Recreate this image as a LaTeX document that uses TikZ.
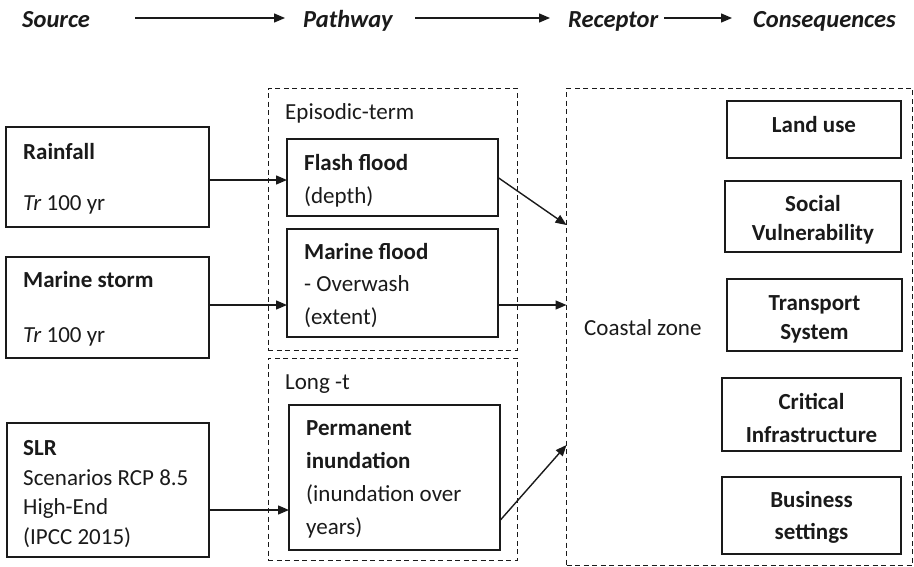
\documentclass[tikz,border=0pt]{standalone}
\usepackage{fontspec}
\setmainfont{Carlito}
\usetikzlibrary{arrows.meta}
\definecolor{ink}{HTML}{1A1A1A}
\begin{document}
\begin{tikzpicture}[x=1pt,y=-1pt,
  box/.style={draw=ink, line width=1.4pt, inner sep=0pt, outer sep=0pt},
  dbox/.style={draw=ink, line width=1pt, dash pattern=on 5pt off 3.5pt, inner sep=0pt, outer sep=0pt},
  txt/.style={anchor=base west, inner sep=0pt, text=ink, font=\fontsize{23}{27}\selectfont},
  btxt/.style={anchor=base west, inner sep=0pt, text=ink, font=\bfseries\fontsize{23}{27}\selectfont},
  ctxt/.style={anchor=base, inner sep=0pt, text=ink, font=\bfseries\fontsize{23}{27}\selectfont},
  hdr/.style={anchor=base west, inner sep=0pt, text=ink, font=\bfseries\itshape\fontsize{24.5}{29}\selectfont},
  arr/.style={draw=ink, line width=1.4pt, -{Triangle[length=11pt,width=9pt]}}
]
\useasboundingbox (0,0) rectangle (914,566);

% header
\node[hdr] (hsrc) at (22,27) {Source};
\node[hdr] (hpath) at (303,27) {Pathway};
\node[hdr] (hrec) at (568,27) {Receptor};
\node[hdr] (hcons) at (753,27) {Consequences};
\coordinate (h1a) at (135,18); \coordinate (h1b) at (285,18);
\coordinate (h2a) at (415,18); \coordinate (h2b) at (550,18);
\coordinate (h3a) at (664,18); \coordinate (h3b) at (732,18);
\draw[arr] (h1a) -- (h1b);
\draw[arr] (h2a) -- (h2b);
\draw[arr] (h3a) -- (h3b);

% dashed groups
\node[dbox, minimum width=249pt, minimum height=262pt] (epi) at (392.5,219) {};
\node[dbox, minimum width=249pt, minimum height=202pt] (long) at (392.5,459) {};
\node[dbox, minimum width=346pt, minimum height=477pt] (coast) at (739.5,326.5) {};

% source boxes
\node[box, minimum width=203pt, minimum height=100pt] (rain) at (107.5,177) {};
\node[box, minimum width=203pt, minimum height=101pt] (storm) at (107.5,307.5) {};
\node[box, minimum width=202pt, minimum height=134pt] (slr) at (108,490) {};

% pathway boxes
\node[box, minimum width=211pt, minimum height=77pt] (flash) at (392.5,177.5) {};
\node[box, minimum width=211pt, minimum height=108pt] (mflood) at (392.5,283) {};
\node[box, minimum width=211pt, minimum height=145pt] (perm) at (394.5,477.5) {};

% consequence boxes
\node[box, minimum width=174pt, minimum height=57pt] (land) at (814,129.5) {};
\node[box, minimum width=176pt, minimum height=71pt] (social) at (813,216.5) {};
\node[box, minimum width=175pt, minimum height=72pt] (trans) at (814.5,315) {};
\node[box, minimum width=179pt, minimum height=73pt] (crit) at (811.5,414.5) {};
\node[box, minimum width=179pt, minimum height=77pt] (bus) at (811.5,515.5) {};

% source texts
\node[btxt] (t1) at (23,159) {Rainfall};
\node[txt] (t2) at (23,210) {\textit{Tr} 100 yr};
\node[btxt] (t3) at (23,287) {Marine storm};
\node[txt] (t4) at (23,342) {\textit{Tr} 100 yr};
\node[btxt] (t5) at (23,455) {SLR};
\node[txt] (t6) at (23,485) {Scenarios RCP 8.5};
\node[txt] (t7) at (23,514) {High-End};
\node[txt] (t8) at (23,544) {(IPCC 2015)};

% pathway texts
\node[txt] (p0) at (285,119) {Episodic-term};
\node[btxt] (p1) at (304,170) {Flash flood};
\node[txt] (p2) at (304,203) {(depth)};
\node[btxt] (p3) at (304,259) {Marine flood};
\node[txt] (p4) at (304,291) {- Overwash};
\node[txt] (p5) at (304,324) {(extent)};
\node[txt] (p6) at (285,389) {Long -t};
\node[btxt] (p7) at (306,435) {Permanent};
\node[btxt] (p8) at (306,468) {inundation};
\node[txt] (p9) at (306,501) {(inundation over};
\node[txt] (p10) at (306,534) {years)};

% receptor / consequences texts
\node[txt] (cz) at (584,335) {Coastal zone};
\node[ctxt] (k1) at (814,132) {Land use};
\node[ctxt] (k2) at (813,211) {Social};
\node[ctxt] (k3) at (813,240) {Vulnerability};
\node[ctxt] (k4) at (814.5,310) {Transport};
\node[ctxt] (k5) at (814.5,339) {System};
\node[ctxt] (k6) at (811.5,409) {Critical};
\node[ctxt] (k7) at (811.5,442) {Infrastructure};
\node[ctxt] (k8) at (811.5,507) {Business};
\node[ctxt] (k9) at (811.5,539) {settings};

% connectors
\draw[arr] ([yshift=-3pt]rain.east) -- ([yshift=-3pt]rain.east -| flash.west);
\draw[arr] ([yshift=2.5pt]storm.east) -- ([yshift=2.5pt]storm.east -| mflood.west);
\draw[arr] ([yshift=-20pt]slr.east) -- ([yshift=-20pt]slr.east -| perm.west);
\coordinate (c1) at (566.5,225);
\coordinate (c2) at (566.5,305);
\coordinate (c3) at (566.5,445);
\draw[arr] (flash.east) -- (c1);
\draw[arr] (mflood.east |- c2) -- (c2);
\draw[arr] ([yshift=-43pt]perm.east) -- (c3);
\end{tikzpicture}
\end{document}
